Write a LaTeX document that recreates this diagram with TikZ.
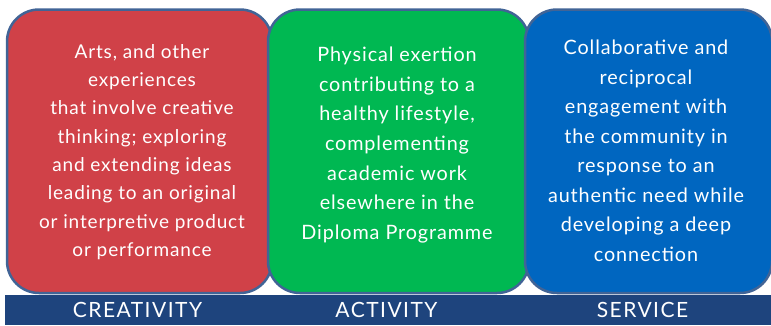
\documentclass[tikz,border=0pt]{standalone}
\usepackage{fontspec}
\setmainfont{Lato}
\newfontfamily\blurbFont[LetterSpace=4.5]{Lato}
\newfontfamily\labelFont[LetterSpace=7]{Lato}

\tikzset{
    box/.style={draw=borderColour, line width=2.5pt, rounded corners=32pt,
        inner sep=0pt, minimum height=283.5pt},
    blurb/.style={text=white, align=center, inner sep=0pt},
    barLabel/.style={text=white, inner sep=0pt, font=\labelFont\fontsize{21}{24}\selectfont}
}

\begin{document}
\begin{tikzpicture}[x=1pt, y=-1pt]
    % Define colours
    \definecolor{borderColour}{HTML}{416496}
    \definecolor{creativityColour}{HTML}{D04148}
    \definecolor{activityColour}{HTML}{00B852}
    \definecolor{serviceColour}{HTML}{0066C0}
    \definecolor{barColour}{HTML}{1E447D}

    \useasboundingbox (0,0) rectangle (771,325);

    % Draw the three boxes, each one on top of the one before
    \node[box, fill=creativityColour, minimum width=265pt] (creativity) at (139.5,151.25) {};
    \node[box, fill=activityColour, minimum width=261pt] (activity) at (398.5,151.25) {};
    \node[box, fill=serviceColour, minimum width=247pt] (service) at (648.5,151.25) {};

    % Text inside the boxes
    \node[blurb, font=\blurbFont\fontsize{19}{28.3}\selectfont] (creativityText) at (142,152)
        {Arts, and other\\experiences\\that involve creative\\thinking; exploring\\and extending ideas\\leading to an original\\or interpretive product\\or performance};
    \node[blurb, font=\blurbFont\fontsize{19.8}{29.7}\selectfont] (activityText) at (397,145)
        {Physical exertion\\contributing to a\\healthy lifestyle,\\complementing\\academic work\\elsewhere in the\\Diploma Programme};
    \node[blurb, font=\blurbFont\fontsize{19.8}{29.5}\selectfont] (serviceText) at (646,151)
        {Collaborative and\\reciprocal\\engagement with\\the community in\\response to an\\authentic need while\\developing a deep\\connection};

    % Draw the bar along the bottom
    \node[fill=barColour, inner sep=0pt, minimum width=766pt, minimum height=30pt,
        anchor=north west] (bar) at (5,295) {};

    % Label the bar
    \node[barLabel] (creativityLabel) at (137.5,310) {CREATIVITY};
    \node[barLabel] (activityLabel) at (386.5,310) {ACTIVITY};
    \node[barLabel] (serviceLabel) at (642.5,310) {SERVICE};

\end{tikzpicture}
\end{document}
